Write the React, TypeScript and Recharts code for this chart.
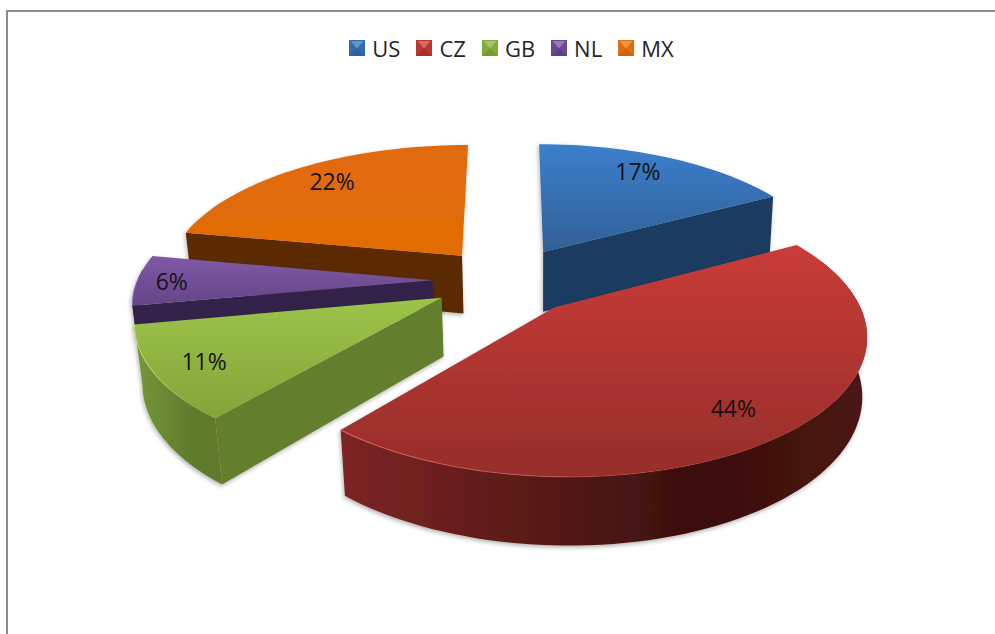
import React from "react";
import { PieChart, Pie, Cell, Legend } from "recharts";

// Legend order
const legendCategories = ["US", "CZ", "GB", "NL", "MX"];
const legendColors = ["#2f6cb0", "#b8352f", "#86ab38", "#6a4794", "#e36c09"];

// Slices in painter's order (back to front)
const sliceNames = ["US", "MX", "NL", "GB", "CZ"];
const sliceValues = [17, 22, 6, 11, 44];

const faceTop: Record<string, [string, string]> = {
  US: ["#3c7fcc", "#2f6096"],
  CZ: ["#c93c38", "#952d2a"],
  GB: ["#9cc44a", "#84a43a"],
  NL: ["#8059a8", "#634585"],
  MX: ["#e06b08", "#e26c06"],
};
const faceSide: Record<string, string> = {
  US: "#1c3b60",
  CZ: "#5c1a18",
  GB: "#647f2e",
  NL: "#33214a",
  MX: "#5c2b00",
};
const wallSide: Record<string, [string, string]> = {
  US: ["#1c3b60", "#1c3b60"],
  CZ: ["#7d2523", "#3a0f0e"],
  GB: ["#76983a", "#5f7a2c"],
  NL: ["#33214a", "#33214a"],
  MX: ["#5c2b00", "#5c2b00"],
};
const rimLight: Record<string, string> = {
  US: "#5b93d5",
  CZ: "#dc5a55",
  GB: "#b4d860",
  NL: "#9270b8",
  MX: "#f08a30",
};
// Explosion of each slice on the ground plane, in pie radii
const explode: Record<string, [number, number]> = {
  US: [0.116, 0],
  CZ: [0.145, 0.42],
  GB: [-0.227, 0.35],
  NL: [-0.262, 0.22],
  MX: [-0.167, 0.03],
};
// Rim shape of each slice: scale, bulge at mid-arc, shrink at the start of the arc
const rimShape: Record<string, [number, number, number]> = {
  US: [0.988, 0, 0],
  CZ: [1, 0.032, 0.012],
  GB: [1.004, 0, 0],
  NL: [1, 0, 0],
  MX: [1.01, 0, 0],
};
const depthScale: Record<string, number> = { US: 1.07, CZ: 0.98, GB: 1, NL: 0.35, MX: 1.03 };
// Label placement: radius on the slice, and angle offset from the mid-angle
const labelPlace: Record<string, [number, number]> = {
  US: [0.807, -2.8],
  CZ: [0.827, 0.8],
  GB: [0.842, 0],
  NL: [0.883, -0.3],
  MX: [0.826, 1.5],
};

// Projection
const VX = 510, VY = -627, KX = 286, HY = 879, G = 0.1415;
const proj = (u: number, v: number) => {
  const w = 1 / (1 - G * v);
  return { x: VX + KX * u * w, y: VY + HY * w };
};
const rim = (name: string, deg: number, r = 1) => {
  const [ex, ey] = explode[name];
  const a = (deg * Math.PI) / 180;
  return proj(ex + r * Math.sin(a), ey - r * Math.cos(a));
};
const drop = (name: string) => (p: { x: number; y: number }) => {
  const d = 0.0635 * (p.y - VY) * depthScale[name];
  const lean = p.x < 540 ? ((540 - p.x) * d) / 3083 : ((540 - p.x) * d) / 4100;
  return { x: p.x + lean, y: p.y + d };
};
const toD = (pts: { x: number; y: number }[], close = true) =>
  pts.map((p, i) => `${i ? "L" : "M"}${p.x.toFixed(2)} ${p.y.toFixed(2)}`).join(" ") + (close ? " Z" : "");
const sweep = (name: string, a: number, b: number, a0: number, b0: number) => {
  const n = Math.max(2, Math.ceil(Math.abs(b - a) / 2));
  const [scale, bulge, shrink] = rimShape[name];
  const out = [];
  for (let i = 0; i <= n; i++) {
    const deg = a + ((b - a) * i) / n;
    const t = (deg - a0) / (b0 - a0);
    out.push(rim(name, deg, scale + bulge * Math.sin(Math.PI * t) - shrink * (1 - t)));
  }
  return out;
};

const Slice3D = (props: any) => {
  const name: string = props.name ?? props.payload?.name;
  let a = 90 - props.endAngle;
  let b = 90 - props.startAngle;
  while (a < 0) { a += 360; b += 360; }
  const apex = rim(name, 0, 0);
  const arc = sweep(name, a, b, a, b);
  const sinA = Math.sin((a * Math.PI) / 180);
  const sinB = Math.sin((b * Math.PI) / 180);
  const wa = Math.max(a, 70);
  const wb = Math.min(b, 275);
  const wallTop = wb - wa > 15 ? sweep(name, wa, wb, a, b) : [];
  const dr = drop(name);
  const face = (p: { x: number; y: number }) => (
    <path d={toD([apex, p, dr(p), dr(apex)])} fill={faceSide[name]} />
  );
  return (
    <g filter="url(#softShadow)">
      {sinA < -0.01 && face(arc[0])}
      {sinB > 0.01 && face(arc[arc.length - 1])}
      {wallTop.length > 0 && (
        <path d={toD([...wallTop, ...wallTop.map(dr).reverse()])} fill={`url(#wall-${name})`} />
      )}
      <path d={toD([apex, ...arc])} fill={`url(#top-${name})`} />
      {wallTop.length > 0 && (
        <path d={toD(wallTop, false)} fill="none" stroke={`url(#rim-${name})`} strokeWidth={1.2} />
      )}
    </g>
  );
};

const renderLabel = (props: any) => {
  const name: string = props.name ?? props.payload?.name;
  const [r, dTheta] = labelPlace[name];
  const p = rim(name, 90 - props.midAngle + dTheta, r);
  return (
    <text
      x={p.x}
      y={p.y}
      textAnchor="middle"
      dominantBaseline="central"
      fontFamily="'Open Sans', sans-serif"
      fontSize={23}
      fill="#141414"
    >
      {`${Math.round(props.percent * 100)}%`}
    </text>
  );
};

const LegendIcon = ({ color }: { color: string }) => (
  <svg width={16} height={16} style={{ display: "block" }}>
    <rect x={0} y={0} width={16} height={16} fill={color} />
    <polygon points="1.5,1 14.5,1 8,8.5" fill="#ffffff" opacity={0.28} />
    <polygon points="0,16 16,16 8,8.5" fill="#000000" opacity={0.1} />
  </svg>
);

const LegendRow = () => (
  <div
    style={{
      display: "flex",
      justifyContent: "center",
      alignItems: "center",
      gap: 16,
      width: 995,
      height: 30,
      fontFamily: "'Open Sans', sans-serif",
      fontSize: 22,
      color: "#262626",
      transform: "translateX(14px)",
    }}
  >
    {legendCategories.map((c, i) => (
      <div key={c} style={{ display: "flex", alignItems: "center", gap: 7 }}>
        <LegendIcon color={legendColors[i]} />
        <span>{c}</span>
      </div>
    ))}
  </div>
);

const chartData = sliceNames.map((name, i) => ({ name, value: sliceValues[i] }));

export default function App() {
  return (
    <div style={{ position: "absolute", left: 0, top: 0, width: 995, height: 634, background: "#fff", overflow: "hidden" }}>
      <div
        style={{
          position: "absolute",
          left: 6,
          top: 10,
          width: 989,
          height: 624,
          boxSizing: "border-box",
          borderTop: "2.5px solid #8c8c8c",
          borderLeft: "2.5px solid #8c8c8c",
        }}
      />
      <div style={{ position: "absolute", left: 0, top: 0 }}>
        <PieChart width={995} height={634} margin={{ top: 0, right: 0, bottom: 0, left: 0 }}>
          <defs>
            <filter id="softShadow" x="-5%" y="-5%" width="110%" height="115%">
              <feDropShadow dx={-1} dy={2} stdDeviation={2} floodColor="#000" floodOpacity={0.3} />
            </filter>
            {sliceNames.map((n) => (
              <linearGradient key={`t${n}`} id={`top-${n}`} x1="0" y1="0" x2="0" y2="1">
                <stop offset="0%" stopColor={faceTop[n][0]} />
                <stop offset="100%" stopColor={faceTop[n][1]} />
              </linearGradient>
            ))}
            {sliceNames.map((n) => (
              <linearGradient key={`w${n}`} id={`wall-${n}`} x1="0" y1="0" x2="1" y2="0">
                <stop offset="0%" stopColor={wallSide[n][0]} />
                <stop offset="68%" stopColor={wallSide[n][1]} />
                <stop offset="100%" stopColor={n === "CZ" ? "#4c1412" : wallSide[n][1]} />
              </linearGradient>
            ))}
            {sliceNames.map((n) => (
              <linearGradient key={`r${n}`} id={`rim-${n}`} x1="0" y1="0" x2="1" y2="0">
                <stop offset="0%" stopColor={rimLight[n]} />
                <stop offset="55%" stopColor={rimLight[n]} stopOpacity={0.25} />
                <stop offset="80%" stopColor={rimLight[n]} stopOpacity={0} />
              </linearGradient>
            ))}
          </defs>
          <Legend
            verticalAlign="top"
            content={() => <LegendRow />}
            wrapperStyle={{ position: "absolute", left: 0, top: 33, width: 995 }}
          />
          <Pie
            data={chartData}
            dataKey="value"
            nameKey="name"
            cx={510}
            cy={300}
            outerRadius={280}
            startAngle={28.8}
            endAngle={388.8}
            stroke="none"
            shape={Slice3D}
            label={renderLabel}
            labelLine={false}
            isAnimationActive={false}
          >
            {chartData.map((d) => (
              <Cell key={d.name} fill={faceTop[d.name][0]} />
            ))}
          </Pie>
        </PieChart>
      </div>
    </div>
  );
}
